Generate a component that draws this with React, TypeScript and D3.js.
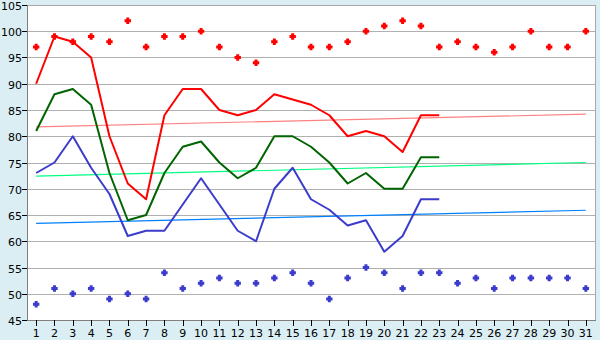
import React, { useEffect, useRef } from 'react'
import * as d3 from 'd3'

const days = d3.range(1, 32).map(String)
const yTicks = [45, 50, 55, 60, 65, 70, 75, 80, 85, 90, 95, 100, 105]

// daily maxima / minima (markers)
const maxPoints = [97, 99, 98, 99, 98, 102, 97, 99, 99, 100, 97, 95, 94, 98, 99, 97, 97, 98, 100, 101, 102, 101, 97, 98, 97, 96, 97, 100, 97, 97, 100]
const minPoints = [48, 51, 50, 51, 49, 50, 49, 54, 51, 52, 53, 52, 52, 53, 54, 52, 49, 53, 55, 54, 51, 54, 54, 52, 53, 51, 53, 53, 53, 53, 51]

// lines, days 1..23
const redLine = [90, 99, 98, 95, 80, 71, 68, 84, 89, 89, 85, 84, 85, 88, 87, 86, 84, 80, 81, 80, 77, 84, 84]
const greenLine = [81, 88, 89, 86, 73, 64, 65, 73, 78, 79, 75, 72, 74, 80, 80, 78, 75, 71, 73, 70, 70, 76, 76]
const blueLine = [73, 75, 80, 74, 69, 61, 62, 62, 67, 72, 67, 62, 60, 70, 74, 68, 66, 63, 64, 58, 61, 68, 68]

// trend lines: value at day 1 and day 31
const redTrend = [81.8, 84.2]
const greenTrend = [72.4, 75.0]
const blueTrend = [63.4, 65.9]

const W = 600
const H = 340
const box = { left: 27, right: 595, top: 5, bottom: 320 }

// small filled cross marker, like the old office charts
const markerPath = 'M-1.5,-3.2L1.5,-3.2L1.5,-1.5L3.2,-1.5L3.2,1.5L1.5,1.5L1.5,3.2L-1.5,3.2L-1.5,1.5L-3.2,1.5L-3.2,-1.5L-1.5,-1.5Z'

const App: React.FC = () => {
  const svgRef = useRef<SVGSVGElement>(null)

  useEffect(() => {
    if (!svgRef.current) return
    const svg = d3.select(svgRef.current)
    svg.selectAll('*').remove()

    const x = d3.scaleBand<string>().domain(days).range([box.left, box.right]).padding(0)
    const cx = (d: string) => (x(d) || 0) + x.bandwidth() / 2
    const y = d3.scaleLinear().domain([45, 105]).range([box.bottom, box.top])
    const py = (v: number) => Math.round(y(v)) + 0.5

    svg.append('rect').attr('width', W).attr('height', H).attr('fill', '#daeef4')
    svg.append('rect')
      .attr('x', box.left).attr('y', box.top)
      .attr('width', box.right - box.left).attr('height', box.bottom - box.top)
      .attr('fill', '#ffffff')

    // grid
    svg.append('g').selectAll('line')
      .data(yTicks)
      .enter().append('line')
      .attr('x1', box.left).attr('x2', box.right)
      .attr('y1', d => py(d)).attr('y2', d => py(d))
      .attr('stroke', '#b0b0b0')
      .attr('stroke-width', 1)

    // frame
    svg.append('rect')
      .attr('x', box.left + 0.5).attr('y', box.top + 0.5)
      .attr('width', box.right - box.left).attr('height', box.bottom - box.top)
      .attr('fill', 'none').attr('stroke', '#a8a8a8')

    const font = '"DejaVu Sans", Verdana, sans-serif'

    // y axis
    const ya = svg.append('g')
    ya.append('line')
      .attr('x1', box.left + 0.5).attr('x2', box.left + 0.5)
      .attr('y1', box.top).attr('y2', box.bottom + 1)
      .attr('stroke', '#808080')
    ya.selectAll('line.t').data(yTicks).enter().append('line')
      .attr('class', 't')
      .attr('x1', box.left - 5).attr('x2', box.left)
      .attr('y1', d => py(d)).attr('y2', d => py(d))
      .attr('stroke', '#000')
    ya.selectAll('text').data(yTicks).enter().append('text')
      .attr('x', box.left - 5).attr('y', d => py(d) + 4)
      .attr('text-anchor', 'end')
      .attr('font-family', font).attr('font-size', 11)
      .attr('fill', '#000')
      .text(d => d)

    // x axis
    const xa = svg.append('g')
    xa.append('line')
      .attr('x1', box.left).attr('x2', box.right + 1)
      .attr('y1', box.bottom + 0.5).attr('y2', box.bottom + 0.5)
      .attr('stroke', '#808080')
    xa.selectAll('line.t').data(days).enter().append('line')
      .attr('class', 't')
      .attr('x1', d => Math.round(cx(d)) + 0.5).attr('x2', d => Math.round(cx(d)) + 0.5)
      .attr('y1', box.bottom).attr('y2', box.bottom + 6)
      .attr('stroke', '#000')
    xa.selectAll('text').data(days).enter().append('text')
      .attr('x', d => cx(d)).attr('y', box.bottom + 17)
      .attr('text-anchor', 'middle')
      .attr('font-family', font).attr('font-size', 11)
      .attr('fill', '#000')
      .text(d => d)

    // trend lines
    const trends: [number[], string][] = [
      [redTrend, '#ff8080'],
      [greenTrend, '#00ff80'],
      [blueTrend, '#0080ff'],
    ]
    trends.forEach(([t, c]) => {
      svg.append('line')
        .attr('x1', cx(days[0])).attr('x2', cx(days[days.length - 1]))
        .attr('y1', y(t[0])).attr('y2', y(t[1]))
        .attr('stroke', c).attr('stroke-width', 1.2)
    })

    // series lines
    const line = d3.line<number>()
      .x((_, i) => cx(days[i]))
      .y(d => y(d))
    const series: [number[], string][] = [
      [blueLine, '#3c3ccc'],
      [greenLine, '#006400'],
      [redLine, '#ff0000'],
    ]
    series.forEach(([s, c]) => {
      svg.append('path')
        .datum(s)
        .attr('fill', 'none')
        .attr('stroke', c)
        .attr('stroke-width', 2)
        .attr('stroke-linejoin', 'round')
        .attr('d', line)
    })

    // markers
    const marks: [number[], string][] = [
      [maxPoints, '#ff0000'],
      [minPoints, '#3c3ccc'],
    ]
    marks.forEach(([m, c]) => {
      svg.append('g').selectAll('path')
        .data(m)
        .enter().append('path')
        .attr('d', markerPath)
        .attr('transform', (d, i) => `translate(${cx(days[i])},${y(d)})`)
        .attr('fill', c)
    })
  }, [])

  return (
    <svg
      ref={svgRef}
      width={W}
      height={H}
      style={{ position: 'absolute', left: 0, top: 0, display: 'block' }}
    />
  )
}

export default App
